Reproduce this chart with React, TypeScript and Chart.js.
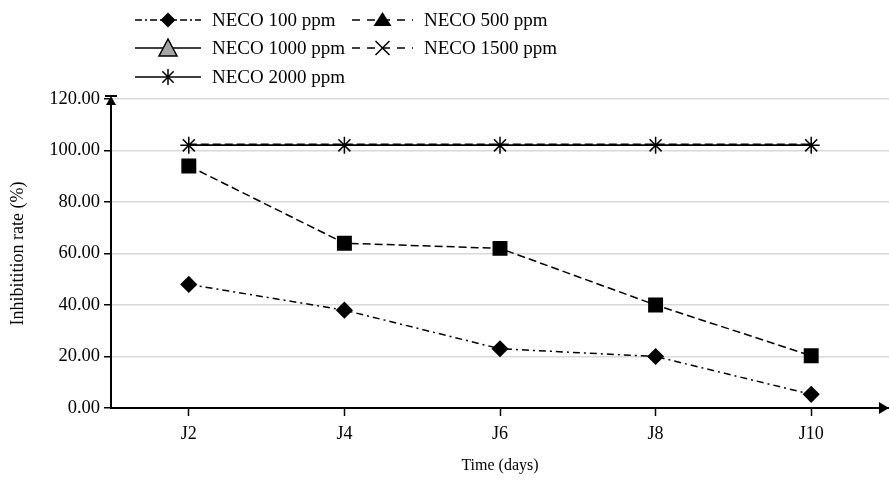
import React, { useEffect, useRef } from 'react';
import { Chart, registerables } from 'chart.js';

Chart.register(...registerables);

const categories = ['J2', 'J4', 'J6', 'J8', 'J10'];
const neco100 = [48, 38, 23, 20, 5.3];
const neco500 = [94, 64, 62, 40, 20.3];
const neco1000 = [102, 102, 102, 102, 102];
const neco1500 = [102.4, 102.4, 102.4, 102.4, 102.4];
const neco2000 = [102, 102, 102, 102, 102];
const yMin = 0;
const yMax = 120;
const yStep = 20;

const FONT = '"Liberation Serif", "Times New Roman", serif';

type LegendItem = {
  label: string;
  dash: number[];
  marker: 'diamond' | 'triFilled' | 'triGray' | 'cross' | 'star';
  col: number;
  row: number;
};

const legendItems: LegendItem[] = [
  { label: 'NECO 100 ppm', dash: [7, 3, 2, 3], marker: 'diamond', col: 0, row: 0 },
  { label: 'NECO 500 ppm', dash: [8, 7], marker: 'triFilled', col: 1, row: 0 },
  { label: 'NECO 1000 ppm', dash: [], marker: 'triGray', col: 0, row: 1 },
  { label: 'NECO 1500 ppm', dash: [8, 7], marker: 'cross', col: 1, row: 1 },
  { label: 'NECO 2000 ppm', dash: [], marker: 'star', col: 0, row: 2 },
];

function drawMarker(ctx: CanvasRenderingContext2D, kind: string, x: number, y: number) {
  ctx.save();
  ctx.setLineDash([]);
  ctx.strokeStyle = '#000';
  ctx.fillStyle = '#000';
  ctx.lineWidth = 1.5;
  ctx.beginPath();
  if (kind === 'diamond') {
    const r = 7.5;
    ctx.moveTo(x, y - r);
    ctx.lineTo(x + r, y);
    ctx.lineTo(x, y + r);
    ctx.lineTo(x - r, y);
    ctx.closePath();
    ctx.fill();
  } else if (kind === 'triFilled') {
    ctx.moveTo(x, y - 8);
    ctx.lineTo(x + 9, y + 6);
    ctx.lineTo(x - 9, y + 6);
    ctx.closePath();
    ctx.fill();
  } else if (kind === 'triGray') {
    ctx.fillStyle = '#a6a6a6';
    ctx.moveTo(x, y - 9);
    ctx.lineTo(x + 9, y + 8);
    ctx.lineTo(x - 9, y + 8);
    ctx.closePath();
    ctx.fill();
    ctx.stroke();
  } else if (kind === 'cross') {
    const r = 7;
    ctx.moveTo(x - r, y - r);
    ctx.lineTo(x + r, y + r);
    ctx.moveTo(x - r, y + r);
    ctx.lineTo(x + r, y - r);
    ctx.stroke();
  } else if (kind === 'star') {
    const r = 8;
    const d = r * Math.SQRT1_2;
    ctx.moveTo(x, y - r);
    ctx.lineTo(x, y + r);
    ctx.moveTo(x - d, y - d);
    ctx.lineTo(x + d, y + d);
    ctx.moveTo(x - d, y + d);
    ctx.lineTo(x + d, y - d);
    ctx.stroke();
  }
  ctx.restore();
}

const legendPlugin = {
  id: 'customLegend',
  afterDraw(chart: any) {
    const ctx: CanvasRenderingContext2D = chart.ctx;
    const colX = [135, 352];
    const colW = [66, 61];
    const rowY = [20, 48, 77];
    ctx.save();
    legendItems.forEach((it) => {
      const x0 = colX[it.col];
      const x1 = x0 + colW[it.col];
      const y = rowY[it.row];
      ctx.strokeStyle = '#000';
      ctx.lineWidth = 1.5;
      ctx.setLineDash(it.dash);
      ctx.beginPath();
      ctx.moveTo(x0, y);
      ctx.lineTo(x1, y);
      ctx.stroke();
      ctx.setLineDash([]);
      drawMarker(ctx, it.marker, (x0 + x1) / 2, y);
      ctx.fillStyle = '#000';
      ctx.font = `19px ${FONT}`;
      ctx.textBaseline = 'middle';
      ctx.textAlign = 'left';
      ctx.fillText(it.label, x1 + 11, y + 1);
    });
    ctx.restore();
  },
};

const arrowPlugin = {
  id: 'axisArrows',
  afterDraw(chart: any) {
    const ctx: CanvasRenderingContext2D = chart.ctx;
    const { left, top, bottom } = chart.chartArea;
    const w = chart.width;
    ctx.save();
    ctx.fillStyle = '#000';
    ctx.strokeStyle = '#000';
    ctx.lineWidth = 2;
    ctx.beginPath();
    ctx.moveTo(left - 6, top - 3);
    ctx.lineTo(left + 6, top - 3);
    ctx.stroke();
    ctx.beginPath();
    ctx.moveTo(left, top - 3);
    ctx.lineTo(left + 5, top + 6);
    ctx.lineTo(left - 5, top + 6);
    ctx.closePath();
    ctx.fill();
    ctx.beginPath();
    ctx.moveTo(w, bottom);
    ctx.lineTo(w - 10, bottom - 6);
    ctx.lineTo(w - 10, bottom + 6);
    ctx.closePath();
    ctx.fill();
    ctx.restore();
  },
};

export default function App() {
  const ref = useRef<HTMLCanvasElement>(null);
  useEffect(() => {
    if (!ref.current) return;
    const chart = new Chart(ref.current, {
      type: 'line',
      data: {
        labels: categories,
        datasets: [
          {
            label: 'NECO 2000 ppm',
            data: neco2000,
            borderColor: '#000',
            backgroundColor: '#000',
            borderWidth: 1.5,
            pointStyle: 'star',
            pointRadius: 8.5,
            pointBorderWidth: 1.5,
            pointBorderColor: '#000',
          },
          {
            label: 'NECO 1500 ppm',
            data: neco1500,
            borderColor: '#000',
            backgroundColor: '#000',
            borderWidth: 1.5,
            borderDash: [8, 4],
            pointStyle: 'crossRot',
            pointRadius: 0,
          },
          {
            label: 'NECO 1000 ppm',
            data: neco1000,
            borderColor: '#000',
            backgroundColor: '#a6a6a6',
            borderWidth: 1.5,
            pointStyle: 'triangle',
            pointRadius: 0,
          },
          {
            label: 'NECO 500 ppm',
            data: neco500,
            borderColor: '#000',
            backgroundColor: '#000',
            borderWidth: 1.5,
            borderDash: [8, 4],
            pointStyle: 'rect',
            pointRadius: 9.5,
            pointBorderColor: '#000',
            pointBackgroundColor: '#000',
          },
          {
            label: 'NECO 100 ppm',
            data: neco100,
            borderColor: '#000',
            backgroundColor: '#000',
            borderWidth: 1.5,
            borderDash: [7, 4, 2, 4],
            pointStyle: 'rectRot',
            pointRadius: 7.5,
            pointBorderColor: '#000',
            pointBackgroundColor: '#000',
          },
        ],
      },
      options: {
        animation: false,
        responsive: true,
        maintainAspectRatio: false,
        layout: { autoPadding: false, padding: { top: 99, left: 0, right: 0, bottom: 0 } },
        plugins: {
          legend: { display: false },
          tooltip: { enabled: false },
          title: { display: false },
        },
        scales: {
          x: {
            type: 'category',
            offset: true,
            grid: {
              offset: false,
              drawOnChartArea: false,
              drawTicks: true,
              tickLength: 8,
              tickColor: '#000',
              tickWidth: 1.5,
            },
            border: { color: '#000', width: 2 },
            ticks: {
              color: '#000',
              font: { family: FONT, size: 18 },
              padding: 7,
              maxRotation: 0,
            },
            title: {
              display: true,
              text: 'Time (days)',
              color: '#000',
              font: { family: FONT, size: 16 },
              padding: { top: 0, bottom: 7 },
            },
            afterFit: (s: any) => {
              s.height = 74;
              s.paddingLeft = 0;
              s.paddingRight = 0;
            },
          },
          y: {
            min: yMin,
            max: yMax,
            grid: {
              color: '#d9d9d9',
              lineWidth: 1.5,
              drawTicks: true,
              tickLength: 7,
              tickColor: '#000',
              tickWidth: 1.5,
            },
            border: { color: '#000', width: 2 },
            ticks: {
              stepSize: yStep,
              color: '#000',
              font: { family: FONT, size: 18.5 },
              padding: 4,
              callback: (v: any) => Number(v).toFixed(2),
            },
            title: {
              display: true,
              text: 'Inhibitition rate (%)',
              color: '#000',
              font: { family: FONT, size: 18 },
              padding: { top: 7, bottom: 0 },
            },
            afterFit: (s: any) => {
              s.width = 111;
            },
          },
        },
      },
      plugins: [legendPlugin, arrowPlugin],
    });
    return () => chart.destroy();
  }, []);
  return (
    <div style={{ position: 'fixed', left: 0, top: 0, width: 889, height: 482 }}>
      <canvas ref={ref} />
    </div>
  );
}
